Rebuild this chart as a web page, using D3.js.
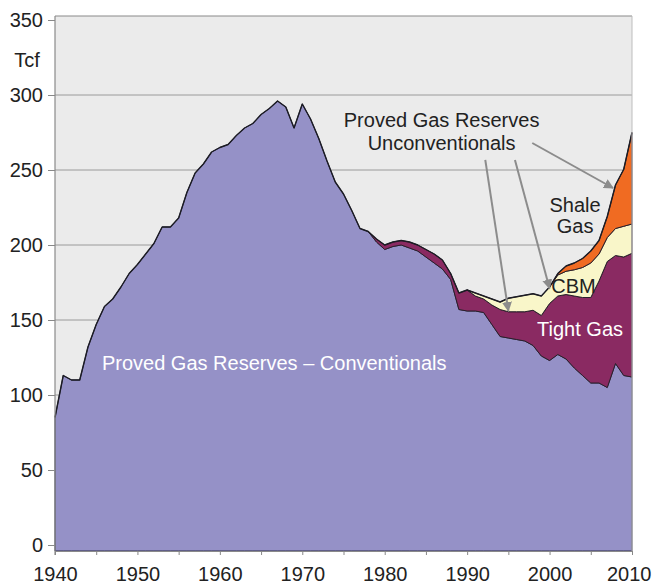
<!DOCTYPE html>
<html><head><meta charset="utf-8">
<script src="https://cdn.jsdelivr.net/npm/d3@7"></script>
<style>
html,body{margin:0;padding:0;background:#fff;}
text{font-family:"Liberation Sans",Arial,Helvetica,sans-serif;}
</style></head>
<body><svg id="c" width="652" height="584"></svg>
<script>
// ---- data (Tcf) ----
const years = d3.range(1940, 2011);
const conventional = [85,113,110,110,132,147,159,164,172,181,187,194,201,212,212,218,235,248,254,262,265,267,273,278,281,287,291,296,292,278,294,284,271,256,242,234,223,211,209,202,197,199,200,198,196,192,188,184,177,157,156,156,155,147,139,138,137,136,133,126,123,127,124,118,113,108,108,105,121,113,112];
const tightGas = [0,0,0,0,0,0,0,0,0,0, 0,0,0,0,0,0,0,0,0,0, 0,0,0,0,0,0,0,0,0,0, 0,0,0,0,0,0,0,0,0,2, 3,3,3,4,4,5,6,6,4,11, 14,10,9,13,18,17.5,18.5,19.5,23.5,27, 38,39,43,48,52,57,68,84,72,79,82.5];
const cbm = [0,0,0,0,0,0,0,0,0,0, 0,0,0,0,0,0,0,0,0,0, 0,0,0,0,0,0,0,0,0,0, 0,0,0,0,0,0,0,0,0,0, 0,0,0,0,0,0,0,0,0,0, 0,2,2,4,5,9,10,11,11,13, 11,14,15.5,17.5,20,23,18,16,18,20.5,19.5];
const shaleGas = [0,0,0,0,0,0,0,0,0,0, 0,0,0,0,0,0,0,0,0,0, 0,0,0,0,0,0,0,0,0,0, 0,0,0,0,0,0,0,0,0,0, 0,0,0,0,0,0,0,0,0,0, 0,0,0,0,0,0,0,0,0,0, 0,1,3.5,4.5,6,8,9,14,29,38,61];
const seriesKeys = ["Conventional","Tight Gas","CBM","Shale Gas"];
const seriesColors = ["#9591c7","#8a2a62","#f9f6c9","#f06b22"];
const yTicks = [0,50,100,150,200,250,300,350];
const xTicks = d3.range(1940, 2011, 5);
const xLabels = d3.range(1940, 2011, 10);
// annotations in data coordinates
const arrows = [
  {from:[1992.2,256.7], to:[1995.0,156]},
  {from:[1995.8,256.7], to:[2000.0,171]},
  {from:[1997.9,268],   to:[2007.7,238]}
];
const labels = [
  {t:"Proved Gas Reserves", x:1986.9, y:278.5, c:"#222"},
  {t:"Unconventionals", x:1986.9, y:263.5, c:"#222"},
  {t:"Shale", x:2003.1, y:222, c:"#222"},
  {t:"Gas", x:2003.1, y:208, c:"#222"},
  {t:"CBM", x:2002.9, y:168, c:"#222"},
  {t:"Tight Gas", x:2003.7, y:139.5, c:"#fff"},
  {t:"Proved Gas Reserves \u2013 Conventionals", x:1966.6, y:116.5, c:"#fff"}
];

// ---- chart ----
const svg = d3.select("#c");
const x = d3.scaleLinear().domain([1940, 2010]).range([55, 632]);
const y = d3.scaleLinear().domain([0, 350]).range([545, 20]);
const plotTop = 16, plotBottom = y(-4);

svg.append("rect").attr("x", x(1940)).attr("y", plotTop)
  .attr("width", x(2010)-x(1940)).attr("height", plotBottom-plotTop).attr("fill", "#ebebeb");

// gridlines
svg.append("g").selectAll("line").data(yTicks.filter(v=>v>0 && v<350)).join("line")
  .attr("x1", x(1940)).attr("x2", x(2010)).attr("y1", d=>y(d)).attr("y2", d=>y(d))
  .attr("stroke", "#9a9a9a").attr("stroke-width", 1);

// stacked areas
const rows = years.map((yr,i)=>({year:yr, "Conventional":conventional[i], "Tight Gas":tightGas[i], "CBM":cbm[i], "Shale Gas":shaleGas[i]}));
const stack = d3.stack().keys(seriesKeys);
const layers = stack(rows);
const vals = [conventional, tightGas, cbm, shaleGas];
layers.forEach((layer, k) => {
  const v = vals[k];
  const area = d3.area()
    .defined((d,i)=> k===0 || v[i]>0 || (i+1<v.length && v[i+1]>0))
    .x(d=>x(d.data.year))
    .y0(d=> k===0 ? plotBottom : y(d[0]))
    .y1(d=>y(d[1]));
  svg.append("path").datum(layer).attr("d", area)
    .attr("fill", seriesColors[k]).attr("stroke", k===0 ? "#2b2a48" : "#2a1f2a")
    .attr("stroke-width", 1).attr("stroke-linejoin","round");
});
// top outline (total)
const total = layers[layers.length-1];
svg.append("path").datum(total)
  .attr("d", d3.line().x(d=>x(d.data.year)).y(d=>y(d[1])))
  .attr("fill","none").attr("stroke","#1c1c24").attr("stroke-width",1.4).attr("stroke-linejoin","round");

// frame
svg.append("line").attr("x1", x(1940)).attr("x2", x(2010)).attr("y1", plotTop).attr("y2", plotTop)
  .attr("stroke", "#8a8a8a").attr("stroke-width", 1.2);
svg.append("line").attr("x1", x(2010)).attr("x2", x(2010)).attr("y1", plotTop).attr("y2", plotBottom)
  .attr("stroke", "#bdbdbd").attr("stroke-width", 1);

// y axis
const yAxis = d3.axisLeft(y).tickValues(yTicks).tickSize(7).tickPadding(5).tickFormat(d3.format("d"));
const gy = svg.append("g").attr("transform", `translate(${x(1940)},0)`).call(yAxis);
gy.select(".domain").remove();
gy.selectAll(".tick line").attr("stroke", "#888");
gy.selectAll(".tick text").attr("font-size", 20).attr("fill", "#222")
  .attr("font-family", '"Liberation Sans",Arial,sans-serif');
svg.append("line").attr("x1", x(1940)).attr("x2", x(1940)).attr("y1", plotTop).attr("y2", plotBottom+4)
  .attr("stroke", "#8a8a8a").attr("stroke-width", 1.2);

// x axis
const xAxis = d3.axisBottom(x).tickValues(xTicks).tickSize(4).tickPadding(12)
  .tickFormat(d => xLabels.includes(d) ? String(d) : "");
const gx = svg.append("g").attr("transform", `translate(0,${plotBottom})`).call(xAxis);
gx.select(".domain").attr("stroke", "#8a8a8a");
gx.selectAll(".tick line").attr("stroke", "#888");
gx.selectAll(".tick text").attr("font-size", 20).attr("fill", "#222")
  .attr("font-family", '"Liberation Sans",Arial,sans-serif');
// keep the last label inside the canvas
gx.selectAll(".tick text").filter(d => d === 2010)
  .attr("text-anchor", "end").attr("x", 651 - x(2010));

// unit label
svg.append("text").attr("x", 27).attr("y", 67).attr("text-anchor","middle")
  .attr("font-size", 20).attr("fill","#222").text("Tcf");

// arrows
const defs = svg.append("defs");
defs.append("marker").attr("id","ah").attr("viewBox","0 0 10 10").attr("refX",9).attr("refY",5)
  .attr("markerWidth",5).attr("markerHeight",5).attr("orient","auto")
  .append("path").attr("d","M0,0L10,5L0,10Z").attr("fill","#8c8c8c");
svg.append("g").selectAll("line").data(arrows).join("line")
  .attr("x1", d=>x(d.from[0])).attr("y1", d=>y(d.from[1]))
  .attr("x2", d=>x(d.to[0])).attr("y2", d=>y(d.to[1]))
  .attr("stroke","#8c8c8c").attr("stroke-width",2).attr("marker-end","url(#ah)");

// labels
svg.append("g").selectAll("text").data(labels).join("text")
  .attr("x", d=>x(d.x)).attr("y", d=>y(d.y)).attr("text-anchor","middle")
  .attr("font-size", 20).attr("fill", d=>d.c).text(d=>d.t);
</script></body></html>
